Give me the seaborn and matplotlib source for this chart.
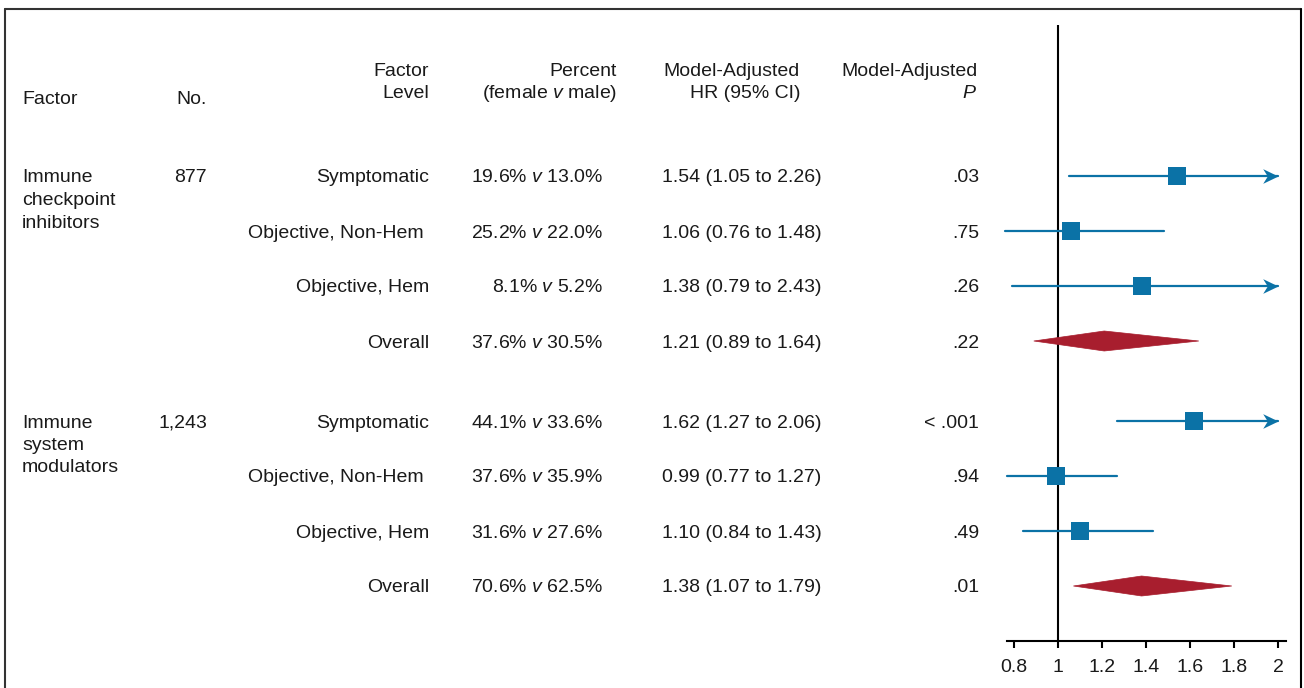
#!/usr/bin/env python3
# -*- coding: utf-8 -*-

import matplotlib as mpl
import matplotlib.pyplot as plt
import seaborn as sns
import pandas as pd
from matplotlib.patches import Polygon
from matplotlib.lines import Line2D
from matplotlib.path import Path

mpl.use("Agg")

sns.set_style("white")
mpl.rcParams["font.family"] = ["Liberation Sans", "DejaVu Sans"]
mpl.rcParams["mathtext.fontset"] = "custom"
mpl.rcParams["mathtext.rm"] = "Liberation Sans"
mpl.rcParams["mathtext.it"] = "Liberation Sans:italic"

FONTSIZE = 14
BLUE = "#0b72a6"
RED = "#a81e2e"
GRAY = "#333333"

# figure size in pixels (dpi 100)
W, H = 1304, 688

groups = ["Immune\ncheckpoint\ninhibitors", "Immune\nsystem\nmodulators"]
n_patients = ["877", "1,243"]
factor_levels = ["Symptomatic", "Objective, Non-Hem ", "Objective, Hem", "Overall"]

pct_female = [
    [19.6, 25.2, 8.1, 37.6],
    [44.1, 37.6, 31.6, 70.6],
]
pct_male = [
    [13.0, 22.0, 5.2, 30.5],
    [33.6, 35.9, 27.6, 62.5],
]
hr = [
    [1.54, 1.06, 1.38, 1.21],
    [1.62, 0.99, 1.10, 1.38],
]
hr_lo = [
    [1.05, 0.76, 0.79, 0.89],
    [1.27, 0.77, 0.84, 1.07],
]
hr_hi = [
    [2.26, 1.48, 2.43, 1.64],
    [2.06, 1.27, 1.43, 1.79],
]
p_values = [
    [".03", ".75", ".26", ".22"],
    ["< .001", ".94", ".49", ".01"],
]

x_ticks = [0.8, 1, 1.2, 1.4, 1.6, 1.8, 2]
x_max_shown = 2.0

# layout (pixel rows, top-down)
first_row = 176
row_step = 55
group_step = 245
TXT_DY = 2  # text sits a little low relative to the marks

rows = []
for g in range(len(groups)):
    for i, level in enumerate(factor_levels):
        rows.append(
            {
                "group": g,
                "level": level,
                "y": first_row + g * group_step + i * row_step,
                "female": pct_female[g][i],
                "male": pct_male[g][i],
                "hr": hr[g][i],
                "lo": hr_lo[g][i],
                "hi": hr_hi[g][i],
                "p": p_values[g][i],
                "overall": level == "Overall",
            }
        )
df = pd.DataFrame(rows)

fig = plt.figure(figsize=(W / 100, H / 100), dpi=100)

# table axes in pixel coordinates
tab = fig.add_axes([0, 0, 1, 1])
tab.set_xlim(0, W)
tab.set_ylim(H, 0)
tab.axis("off")

txt = dict(fontsize=FONTSIZE, color="#1a1a1a", va="center")


def put(x, y, s, **kw):
    tab.text(x, y + TXT_DY, s, **txt, **kw)


# headers
put(22, 97, "Factor", ha="left")
put(207, 97, "No.", ha="right")
put(429, 69, "Factor", ha="right")
put(429, 92, "Level", ha="right")
put(617, 69, "Percent", ha="right")
put(617, 92, r"(female $\mathit{v}$ male)", ha="right")
put(800, 69, "Model-Adjusted", ha="right")
put(800, 92, "HR (95% CI)", ha="right")
put(978, 69, "Model-Adjusted", ha="right")
put(975, 92, "P", ha="right", style="italic")

# group labels
for g, (name, n) in enumerate(zip(groups, n_patients)):
    y0 = first_row + g * group_step
    for k, line in enumerate(name.split("\n")):
        put(22, y0 + k * 22.5, line, ha="left")
    put(207, y0, n, ha="right")

for _, r in df.iterrows():
    put(429, r["y"], r["level"], ha="right")
    put(603, r["y"], f"{r['female']:.1f}% $\\mathit{{v}}$ {r['male']:.1f}%", ha="right")
    put(662, r["y"], f"{r['hr']:.2f} ({r['lo']:.2f} to {r['hi']:.2f})", ha="left")
    put(979, r["y"], r["p"], ha="right")

# forest axes, same pixel y scale as the table
ax_left, ax_right, ax_top, ax_bottom = 1007, 1286, 25, 641
ax = fig.add_axes([ax_left / W, 1 - ax_bottom / H,
                   (ax_right - ax_left) / W, (ax_bottom - ax_top) / H])
ax.patch.set_alpha(0)
px_per_unit = 220
ax.set_xlim(0.8 - (1014 - ax_left) / px_per_unit, 2.0 + (ax_right - 1278) / px_per_unit)
ax.set_ylim(ax_bottom, ax_top)

ax.axvline(1, color="black", lw=1.5, zorder=1)

# arrowhead (tip at origin, notched back)
arrow_head = Path([(0, 0), (-1, 0.48), (-0.7, 0), (-1, -0.48), (0, 0)],
                  [Path.MOVETO, Path.LINETO, Path.LINETO, Path.LINETO, Path.CLOSEPOLY])

single = df[~df["overall"]]
for _, r in single.iterrows():
    right = min(r["hi"], x_max_shown)
    ax.plot([r["lo"], right], [r["y"], r["y"]], color=BLUE, lw=1.6,
            clip_on=False, zorder=2)
    if r["hi"] > x_max_shown:
        ax.plot([x_max_shown], [r["y"]], marker=arrow_head, markersize=22,
                color=BLUE, markeredgewidth=0, clip_on=False, zorder=2)

sns.scatterplot(
    data=single,
    x="hr",
    y="y",
    marker="s",
    s=150,
    color=BLUE,
    edgecolor=BLUE,
    linewidth=0,
    ax=ax,
    zorder=3,
    legend=False,
)

for _, r in df[df["overall"]].iterrows():
    y = r["y"]
    ax.add_patch(
        Polygon(
            [(r["lo"], y), (r["hr"], y - 10), (r["hi"], y), (r["hr"], y + 10)],
            closed=True,
            facecolor=RED,
            edgecolor=RED,
            lw=0.5,
            zorder=3,
        )
    )

sns.despine(ax=ax, left=True, top=True, right=True)
ax.spines["bottom"].set_color("black")
ax.spines["bottom"].set_linewidth(1.5)
ax.set_yticks([])
ax.set_xticks(x_ticks)
ax.set_xticklabels([f"{t:g}" for t in x_ticks])
ax.tick_params(axis="x", direction="out", length=5, width=1.5, pad=8,
               labelsize=FONTSIZE, colors="black", labelcolor="#1a1a1a",
               bottom=True)
ax.set_xlabel("")
ax.set_ylabel("")

# frame around the figure (open at the bottom)
fx = lambda p: p / W
fy = lambda p: 1 - p / H
fig.add_artist(Line2D([fx(5), fx(1301)], [fy(8.5), fy(8.5)], color=GRAY, lw=1.5))
fig.add_artist(Line2D([fx(5), fx(5)], [fy(8.5), fy(H + 5)], color=GRAY, lw=1.5))
fig.add_artist(Line2D([fx(1301), fx(1301)], [fy(8.5), fy(H + 5)], color="black", lw=1.5))

fig.savefig("out.png", dpi=100)
